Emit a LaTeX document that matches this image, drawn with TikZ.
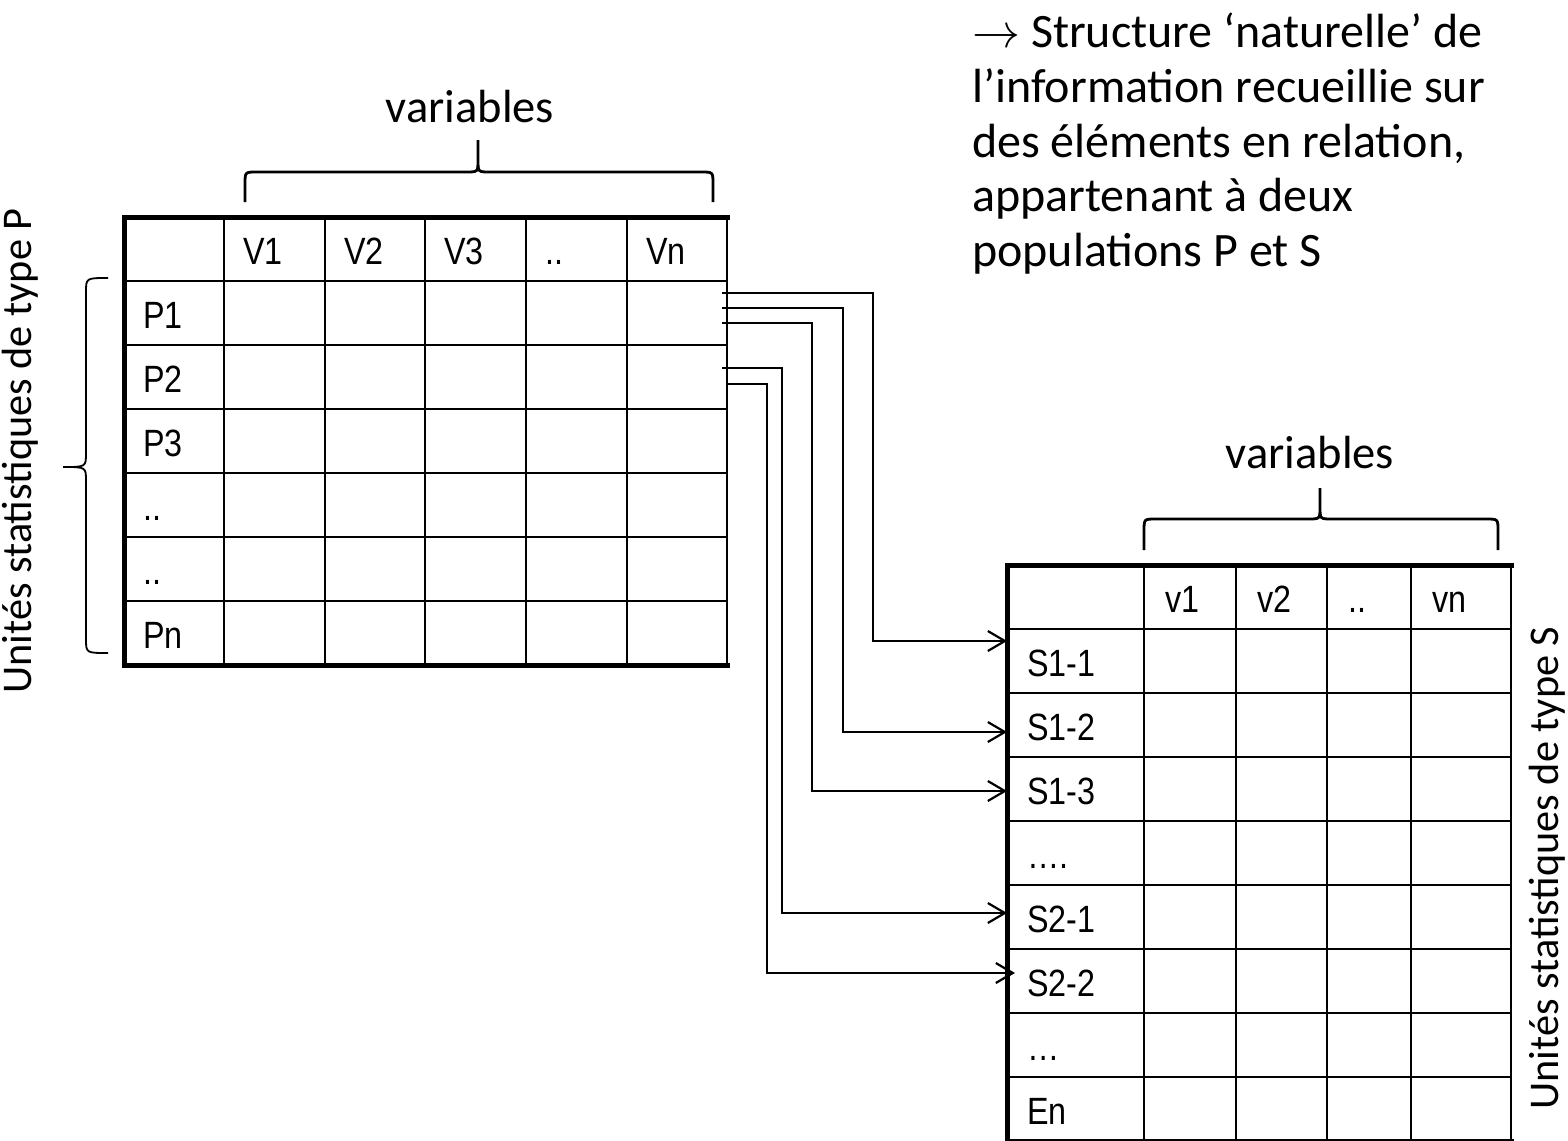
\RequirePackage{fix-cm}
\documentclass[tikz,border=0pt]{standalone}
\usepackage{fontspec}
\setmainfont{Carlito}
\newfontfamily\arialf[FakeStretch=0.85]{Liberation Sans}
\usetikzlibrary{arrows.meta}
\begin{document}
\begin{tikzpicture}[x=1pt,y=-1pt,
  gridln/.style={line width=2.4pt, line cap=rect},
  thickln/.style={line width=5pt, line cap=rect},
  conn/.style={line width=2.2pt, -{Straight Barb[length=17pt,width=20pt]}},
  bracel/.style={line width=2.8pt},
  bracethin/.style={line width=1.8pt},
  cell/.style={anchor=base west, inner sep=0pt, font=\arialf\fontsize{38}{44}\selectfont},
  cal/.style={inner sep=0pt, font=\fontsize{46.5}{54}\selectfont},
  calrot/.style={inner sep=0pt, anchor=base, rotate=90, font=\fontsize{42.3}{50}\selectfont},
  para/.style={anchor=base west, inner sep=0pt, font=\fontsize{48}{54}\selectfont}
]
\useasboundingbox (0,0) rectangle (1568,1140);

% ---------- left table ----------
\foreach \x in {224,325,425,526,627,727} \draw[gridln] (\x,217) -- (\x,665);
\foreach \y in {281,345,409,473,537,601} \draw[gridln] (124,\y) -- (727,\y);
\draw[thickln] (727,217) -- (124,217) -- (124,665) -- (727,665);

\node[cell] (LV1) at (243,264) {V1};
\node[cell] (LV2) at (344,264) {V2};
\node[cell] (LV3) at (444,264) {V3};
\node[cell] (LVd) at (545,264) {..};
\node[cell] (LVn) at (646,264) {Vn};
\node[cell] (P1) at (143,328) {P1};
\node[cell] (P2) at (143,392) {P2};
\node[cell] (P3) at (143,456) {P3};
\node[cell] (Pd1) at (143,520) {..};
\node[cell] (Pd2) at (143,584) {..};
\node[cell] (Pn) at (143,648) {Pn};

% ---------- right table ----------
\foreach \x in {1144,1236,1327,1411,1511} \draw[gridln] (\x,565) -- (\x,1141);
\foreach \y in {629,693,757,821,885,949,1013,1077} \draw[gridln] (1007,\y) -- (1511,\y);
\draw[thickln] (1511,565) -- (1007,565) -- (1007,1141) -- (1511,1141);

\node[cell] (Rv1) at (1165,612) {v1};
\node[cell] (Rv2) at (1257,612) {v2};
\node[cell] (Rvd) at (1348,612) {..};
\node[cell] (Rvn) at (1432,612) {vn};
\node[cell] (S11) at (1027,676) {S1-1};
\node[cell] (S12) at (1027,740) {S1-2};
\node[cell] (S13) at (1027,804) {S1-3};
\node[cell] (Sd1) at (1027,868) {….};
\node[cell] (S21) at (1027,932) {S2-1};
\node[cell] (S22) at (1027,996) {S2-2};
\node[cell] (Sd2) at (1027,1060) {…};
\node[cell] (En) at (1027,1124) {En};

% ---------- connectors ----------
\coordinate (oa) at (722,293);
\coordinate (ob) at (722,308);
\coordinate (oc) at (722,323);
\coordinate (od) at (722,368);
\coordinate (oe) at (728,384);
\coordinate (ia) at (1007,641);
\coordinate (ib) at (1007,732);
\coordinate (ic) at (1007,791);
\coordinate (id) at (1007,913);
\coordinate (ie) at (1015,973);
\draw[conn] (oa) -- ++(151,0) |- (ia);
\draw[conn] (ob) -- ++(121,0) |- (ib);
\draw[conn] (oc) -- ++(90,0) |- (ic);
\draw[conn] (od) -- ++(60,0) |- (id);
\draw[conn] (oe) -- ++(39,0) |- (ie);

% ---------- braces ----------
\draw[bracel] (245,202) -- (245,184) .. controls (245,172) .. (257,172) -- (466,172)
  .. controls (478,172) .. (478,160) -- (478,140) -- (478,160)
  .. controls (478,172) .. (490,172) -- (701,172) .. controls (713,172) .. (713,184) -- (713,202);
\draw[bracel] (1144,550) -- (1144,531) .. controls (1144,519) .. (1156,519) -- (1308,519)
  .. controls (1320,519) .. (1320,507) -- (1320,488) -- (1320,507)
  .. controls (1320,519) .. (1332,519) -- (1486,519) .. controls (1498,519) .. (1498,531) -- (1498,550);
\draw[bracethin] (108,278) .. controls (86,278) .. (86,292) -- (86,453)
  .. controls (86,467) .. (63,467) .. controls (86,467) .. (86,481) -- (86,639)
  .. controls (86,653) .. (108,653);

% ---------- texts ----------
\node[cal, anchor=base] (varL) at (470,122) {variables};
\node[cal, anchor=base] (varR) at (1310,468) {variables};
\node[calrot] (uniteP) at (31,451) {Unités statistiques de type P};
\node[calrot] (uniteS) at (1558,868) {Unités statistiques de type S};
\node[para] (t1) at (972,48) {$\rightarrow$ Structure ‘naturelle’ de};
\node[para] (t2) at (972,102.5) {l’information recueillie sur};
\node[para] (t3) at (972,157) {des éléments en relation,};
\node[para] (t4) at (972,211.5) {appartenant à deux};
\node[para] (t5) at (972,266) {populations P et S};
\end{tikzpicture}
\end{document}
